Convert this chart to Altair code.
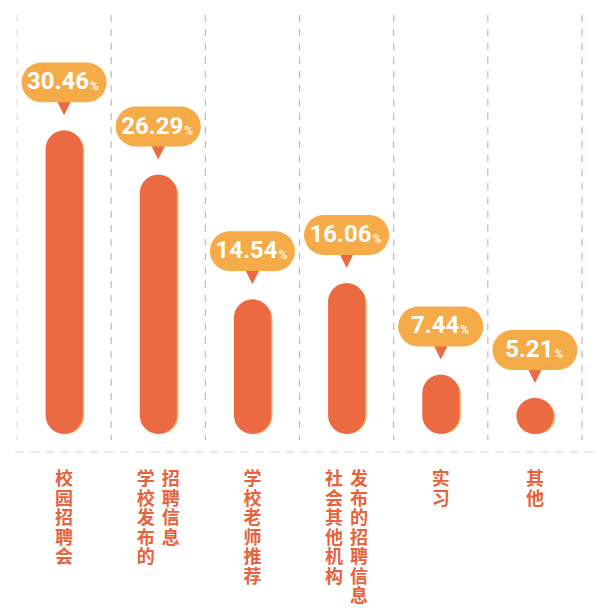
import altair as alt
import pandas as pd

categories = ["校园招聘会", "学校发布的招聘信息", "学校老师推荐", "社会其他机构发布的招聘信息", "实习", "其他"]
values = [30.46, 26.29, 14.54, 16.06, 7.44, 5.21]
value_labels = ["30.46", "26.29", "14.54", "16.06", "7.44", "5.21"]
label_columns = [["校园招聘会"], ["学校发布的", "招聘信息"], ["学校老师推荐"],
                 ["社会其他机构", "发布的招聘信息"], ["实习"], ["其他"]]

BASE = 1.82
TOP = 42.0

df = pd.DataFrame({"cat": categories, "value": values, "label": value_labels})
df["base"] = BASE
df["long"] = df["label"].str.len() > 4

rows = []
for c, cols in zip(categories, label_columns):
    if len(cols) == 1:
        rows.append({"cat": c, "pos": "single", "text": "\n".join(cols[0])})
    else:
        rows.append({"cat": c, "pos": "left", "text": "\n".join(cols[0])})
        rows.append({"cat": c, "pos": "right", "text": "\n".join(cols[1])})
lab = pd.DataFrame(rows)

xscale = alt.Scale(paddingInner=0, paddingOuter=0)
yscale = alt.Scale(domain=[BASE, TOP], zero=False, nice=False)


def X(**kw):
    return alt.X("cat:N", sort=categories, axis=None, scale=xscale, **kw)


Y = alt.Y("value:Q", axis=None, scale=yscale)

BAR = "#EC6A42"
SHADOW = "#F6A552"
BUBBLE = "#F5AB48"
LABEL = "#E8623C"

bubble_path = ("M-0.53,-0.47 L0.53,-0.47 A0.47,0.47 0 0 1 0.53,0.47 "
               "L-0.53,0.47 A0.47,0.47 0 0 1 -0.53,-0.47 Z")

base = alt.Chart(df)

sep_mid = alt.Chart(df).transform_filter(alt.datum.cat != categories[0]).mark_rule(
    color="#DDAEA5", strokeDash=[7, 7], strokeWidth=1.2
).encode(x=X(bandPosition=0), y=alt.value(7), y2=alt.value(432))

sep_first = alt.Chart(df).transform_filter(alt.datum.cat == categories[0]).mark_rule(
    color="#EFDCD6", strokeDash=[7, 7], strokeWidth=1.2
).encode(x=X(bandPosition=0), y=alt.value(7), y2=alt.value(432))

sep_last = alt.Chart(df).transform_filter(alt.datum.cat == categories[-1]).mark_rule(
    color="#DDAEA5", strokeDash=[7, 7], strokeWidth=1.2
).encode(x=X(bandPosition=1), y=alt.value(7), y2=alt.value(432))

baseline = alt.Chart(df).transform_filter(alt.datum.cat == categories[0]).mark_rule(
    color="#E3E3E3", strokeDash=[9, 6], strokeWidth=1.5
).encode(x=alt.value(-17), x2=alt.value(587), y=alt.value(444))

shadow = base.mark_bar(size=37, cornerRadius=18.5, color=SHADOW, xOffset=1.5, yOffset=1.5).encode(
    x=X(), y=Y, y2=alt.Y2("base:Q"))
bars = base.mark_bar(size=37, cornerRadius=18.5, color=BAR).encode(
    x=X(), y=Y, y2=alt.Y2("base:Q"))

pointer = base.mark_point(shape="M-1,-1 L1,-1 L0,1 Z", size=225, filled=True, opacity=1,
                          color=BAR, strokeWidth=0, yOffset=-22.5).encode(x=X(), y=Y)
bubble = base.mark_point(shape=bubble_path, size=85 * 85, filled=True, opacity=1,
                         color=BUBBLE, strokeWidth=0, yOffset=-48).encode(x=X(), y=Y)

num_long = base.transform_filter(alt.datum.long).mark_text(
    font="Roboto", fontWeight="bold", fontSize=24, color="white", align="right",
    baseline="middle", dx=25, yOffset=-48).encode(x=X(), y=Y, text="label:N")
num_short = base.transform_filter(~alt.datum.long).mark_text(
    font="Roboto", fontWeight="bold", fontSize=24, color="white", align="right",
    baseline="middle", dx=18.5, yOffset=-48).encode(x=X(), y=Y, text="label:N")
pct_long = base.transform_filter(alt.datum.long).mark_text(
    font="Roboto", fontWeight="bold", fontSize=12, color="#FFF6EC", align="left",
    baseline="middle", dx=26, yOffset=-44, text="%").encode(x=X(), y=Y)
pct_short = base.transform_filter(~alt.datum.long).mark_text(
    font="Roboto", fontWeight="bold", fontSize=12, color="#FFF6EC", align="left",
    baseline="middle", dx=19.5, yOffset=-44, text="%").encode(x=X(), y=Y)


def labels(pos, dx):
    return alt.Chart(lab).transform_filter(alt.datum.pos == pos).mark_text(
        font="Noto Sans CJK SC", fontWeight="bold", fontSize=18, color=LABEL,
        lineBreak="\n", lineHeight=19.5, baseline="top", align="center", dx=dx
    ).encode(x=X(), y=alt.value(463), text="text:N")


chart = alt.layer(
    sep_first, sep_mid, sep_last, baseline, shadow, bars, pointer, bubble,
    num_long, num_short, pct_long, pct_short,
    labels("single", 0), labels("left", -12.5), labels("right", 12.5)
).properties(
    width=565, height=426,
    padding={"left": 9, "top": 0, "right": 14, "bottom": 174},
    autosize=alt.AutoSizeParams(type="none"),
    background="white",
).configure_view(stroke=None)

chart.save("out.html", embed_options={"renderer": "svg", "actions": False})
